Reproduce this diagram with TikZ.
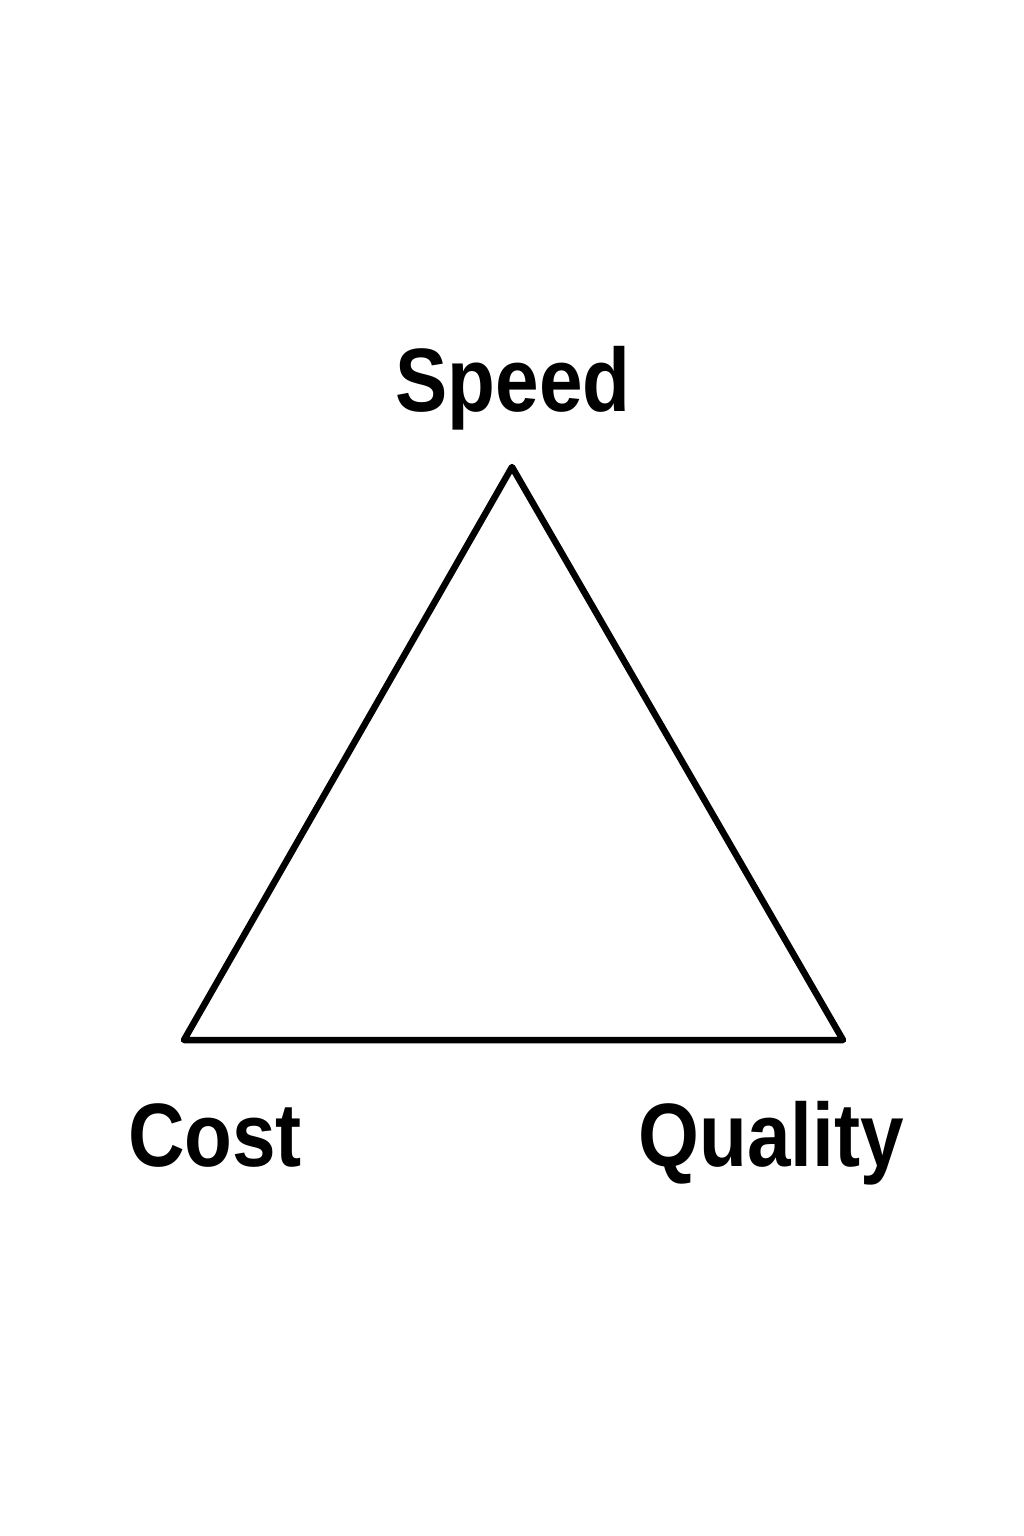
\documentclass[tikz,border=0pt]{standalone}
\usepackage{fontspec}
\setmainfont{Liberation Sans}
\begin{document}
\begin{tikzpicture}[x=1pt,y=-1pt,
  lbl/.style={inner sep=0pt,anchor=base,font=\fontsize{90}{100}\selectfont\bfseries},
  edge/.style={line width=6.5pt,line join=round,line cap=round}]
\useasboundingbox[fill=white] (0,0) rectangle (1024,1536);
\coordinate (T) at (512,467);
\coordinate (L) at (184,1040);
\coordinate (R) at (843,1040);
\draw[edge] (T) -- (L) -- (R) -- cycle;
\node[lbl] (speed) at (513,411) {\scalebox{0.87}[1]{Speed}};
\node[lbl] (cost) at (215,1166) {\scalebox{0.87}[1]{Cost}};
\node[lbl] (quality) at (771,1166) {\scalebox{0.87}[1]{Quality}};
\end{tikzpicture}
\end{document}
